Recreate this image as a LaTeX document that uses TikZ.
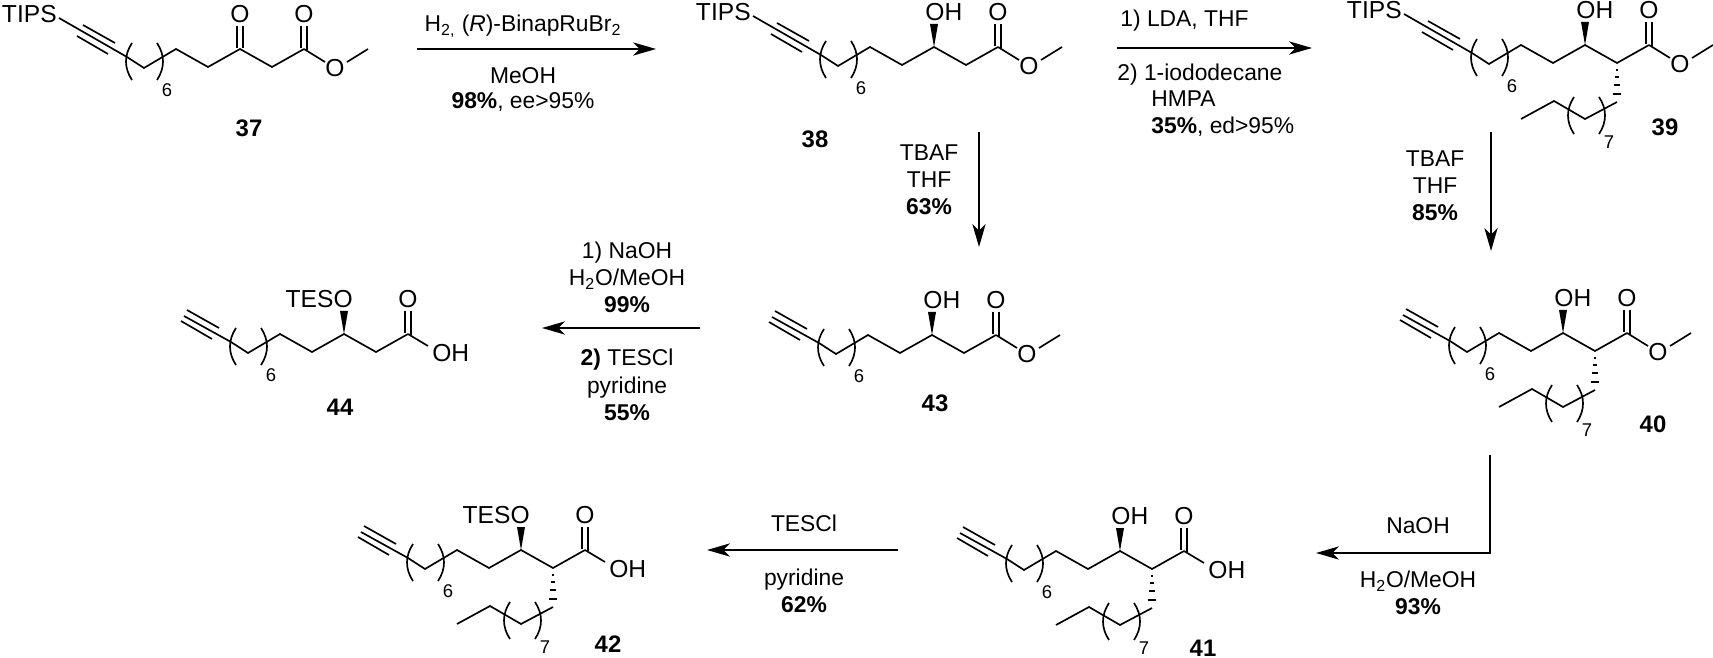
\documentclass[tikz,border=0pt]{standalone}
\usepackage{fontspec}
\setmainfont{Liberation Sans}
\usetikzlibrary{arrows.meta}
\tikzset{
	bond/.style={line width=.95pt},
	rxn/.style={line width=.9pt, -{Stealth[length=13pt,width=7.5pt,inset=3.6pt]}},
	atom/.style={font=\fontsize{14}{16}\selectfont, inner sep=0pt, text height=10pt, text depth=0pt},
	rgt/.style={font=\fontsize{13}{15}\selectfont, inner sep=0pt, text height=9.3pt, text depth=0pt},
	idx/.style={font=\fontsize{10.5}{12}\selectfont, inner sep=0pt},
	cmpd/.style={font=\fontsize{13.6}{15}\selectfont\bfseries, inner sep=0pt},
	pics/longchain/.style={code={
		\coordinate (ca) at (127,57);
		\coordinate (cb) at (144,68);
		\coordinate (cc) at (176,49);
		\coordinate (cd) at (208,67);
		\coordinate (ce) at (240,49);
		\coordinate (cf) at (272,67);
		\coordinate (cg) at (304,49);
		\draw[bond] (ca) -- (cb) -- (cc) -- (cd) -- (ce) -- (cf) -- (cg);
		\draw[bond] (83,25) -- (115,43);
		\draw[bond] (77,36) -- (108,54);
		\draw[bond] (132,43) .. controls (124,55) and (124,68) .. (132,80);
		\draw[bond] (157,43) .. controls (165,55) and (165,68) .. (157,80);
		\node[idx] (six) at (167,90) {6};
	}},
	pics/tips/.style={code={
		\node[atom, anchor=east] (si) at (57,14) {TIPS};
		\coordinate (sb) at (59,18);
		\draw[bond] (sb) -- (ca);
	}},
	pics/ethyne/.style={code={
		\coordinate (ch) at (80,31);
		\draw[bond] (ch) -- (ca);
	}},
	pics/ketone/.style={code={
		\node[atom] (ok) at (240,14) {O};
		\draw[bond] (237,26) -- (237,48);
		\draw[bond] (243,26) -- (243,48);
	}},
	pics/carbonyl/.style={code={
		\node[atom] (oc) at (304,14) {O};
		\draw[bond] (301,26) -- (301,48);
		\draw[bond] (307,26) -- (307,50);
	}},
	pics/ester/.style={code={
		\node[atom] (oe) at (335,68) {O};
		\coordinate (cm) at (368,49);
		\draw[bond] (cg) -- (325,62);
		\draw[bond] (347,62) -- (cm);
	}},
	pics/acid/.style={code={
		\node[atom, anchor=west] (oh) at (328,68) {OH};
		\draw[bond] (cg) -- (324,61);
	}},
	pics/wedge/.style={code={
		\fill (ce) -- (236,26) -- (244,26) -- cycle;
	}},
	pics/hydroxy/.style={code={
		\node[atom, anchor=west] (ho) at (231,14) {OH};
	}},
	pics/teso/.style={code={
		\node[atom, anchor=east] (ot) at (249,14) {TESO};
	}},
	pics/branch/.style={code={
		\foreach \yy/\hw in {74/1.2,81/2.2,89/3.3,98/4.4}
			\draw[line width=1.2pt] (272-\hw,\yy) -- (272+\hw,\yy);
		\coordinate (da) at (272,106);
		\coordinate (db) at (240,123);
		\coordinate (dc) at (209,105);
		\coordinate (dd) at (176,123);
		\draw[bond] (da) -- (db) -- (dc) -- (dd);
		\draw[bond] (229,101) .. controls (221,113) and (221,126) .. (229,138);
		\draw[bond] (254,101) .. controls (262,113) and (262,126) .. (254,138);
		\node[idx] (seven) at (264,146) {7};
	}},
}
\begin{document}
\begin{tikzpicture}[x=0.02cm,y=-0.02cm]
	\useasboundingbox (0,0) rectangle (1713,658);

	\pic at (0,0) {longchain};
	\pic at (0,0) {tips};
	\pic at (0,0) {ketone};
	\pic at (0,0) {carbonyl};
	\pic at (0,0) {ester};
	\node[cmpd] (n37) at (249,128) {37};

	\pic at (694,-2) {longchain};
	\pic at (694,-2) {tips};
	\pic at (694,-2) {wedge};
	\pic at (694,-2) {hydroxy};
	\pic at (694,-2) {carbonyl};
	\pic at (694,-2) {ester};
	\node[cmpd] (n38) at (815,139) {38};

	\pic at (1345,-4) {longchain};
	\pic at (1345,-4) {tips};
	\pic at (1345,-4) {wedge};
	\pic at (1345,-4) {hydroxy};
	\pic at (1345,-4) {carbonyl};
	\pic at (1345,-4) {ester};
	\pic at (1345,-4) {branch};
	\node[cmpd] (n39) at (1665,127) {39};

	\pic at (1323,284) {longchain};
	\pic at (1323,284) {ethyne};
	\pic at (1323,284) {wedge};
	\pic at (1323,284) {hydroxy};
	\pic at (1323,284) {carbonyl};
	\pic at (1323,284) {ester};
	\pic at (1323,284) {branch};
	\node[cmpd] (n40) at (1653,424) {40};

	\pic at (880,502) {longchain};
	\pic at (880,502) {ethyne};
	\pic at (880,502) {wedge};
	\pic at (880,502) {hydroxy};
	\pic at (880,502) {carbonyl};
	\pic at (880,502) {acid};
	\pic at (880,502) {branch};
	\node[cmpd] (n41) at (1203,648) {41};

	\pic at (281,501) {longchain};
	\pic at (281,501) {ethyne};
	\pic at (281,501) {wedge};
	\pic at (281,501) {teso};
	\pic at (281,501) {carbonyl};
	\pic at (281,501) {acid};
	\pic at (281,501) {branch};
	\node[cmpd] (n42) at (608,644) {42};

	\pic at (692,286) {longchain};
	\pic at (692,286) {ethyne};
	\pic at (692,286) {wedge};
	\pic at (692,286) {hydroxy};
	\pic at (692,286) {carbonyl};
	\pic at (692,286) {ester};
	\node[cmpd] (n43) at (935,403) {43};

	\pic at (104,285) {longchain};
	\pic at (104,285) {ethyne};
	\pic at (104,285) {wedge};
	\pic at (104,285) {teso};
	\pic at (104,285) {carbonyl};
	\pic at (104,285) {acid};
	\node[cmpd] (n44) at (340,407) {44};

	\coordinate (a1) at (417,49);
	\coordinate (b1) at (656,49);
	\coordinate (a2) at (1117,48);
	\coordinate (b2) at (1312,48);
	\coordinate (a3) at (979,132);
	\coordinate (b3) at (979,247);
	\coordinate (a4) at (700,328);
	\coordinate (b4) at (542,328);
	\coordinate (a5) at (1491,132);
	\coordinate (b5) at (1491,251);
	\coordinate (a6) at (1490,455);
	\coordinate (b6) at (1316,553);
	\coordinate (a7) at (898,550);
	\coordinate (b7) at (707,550);

	\draw[rxn] (a1) -- (b1);
	\draw[rxn] (a2) -- (b2);
	\draw[rxn] (a3) -- (b3);
	\draw[rxn] (a4) -- (b4);
	\draw[rxn] (a5) -- (b5);
	\draw[rxn] (a6) |- (b6);
	\draw[rxn] (a7) -- (b7);

	\node[rgt] (r1a) at (523,23) {H\textsubscript{2,} (\textit{R})-BinapRuBr\textsubscript{2}};
	\node[rgt] (r1b) at (523,75) {MeOH};
	\node[rgt] (r1c) at (523,100) {\textbf{98\%}, ee>95\%};

	\node[rgt, anchor=west] (r2a) at (1120,18) {1) LDA, THF};
	\node[rgt, anchor=west] (r2b) at (1117,72) {2) 1-iododecane};
	\node[rgt, anchor=west] (r2c) at (1151,98) {HMPA};
	\node[rgt, anchor=west] (r2d) at (1151,125) {\textbf{35\%}, ed>95\%};

	\node[rgt] (r3a) at (929,152) {TBAF};
	\node[rgt] (r3b) at (929,179) {THF};
	\node[rgt] (r3c) at (929,206) {\textbf{63\%}};

	\node[rgt] (r4a) at (627,250) {1) NaOH};
	\node[rgt] (r4b) at (627,277) {H\textsubscript{2}O/MeOH};
	\node[rgt] (r4c) at (627,304) {\textbf{99\%}};
	\node[rgt] (r4d) at (627,357) {\textbf{2)} TESCl};
	\node[rgt] (r4e) at (627,385) {pyridine};
	\node[rgt] (r4f) at (627,412) {\textbf{55\%}};

	\node[rgt] (r5a) at (1435,158) {TBAF};
	\node[rgt] (r5b) at (1435,185) {THF};
	\node[rgt] (r5c) at (1435,212) {\textbf{85\%}};

	\node[rgt] (r6a) at (1418,525) {NaOH};
	\node[rgt] (r6b) at (1418,579) {H\textsubscript{2}O/MeOH};
	\node[rgt] (r6c) at (1418,606) {\textbf{93\%}};

	\node[rgt] (r7a) at (804,523) {TESCl};
	\node[rgt] (r7b) at (804,577) {pyridine};
	\node[rgt] (r7c) at (804,604) {\textbf{62\%}};
\end{tikzpicture}
\end{document}
